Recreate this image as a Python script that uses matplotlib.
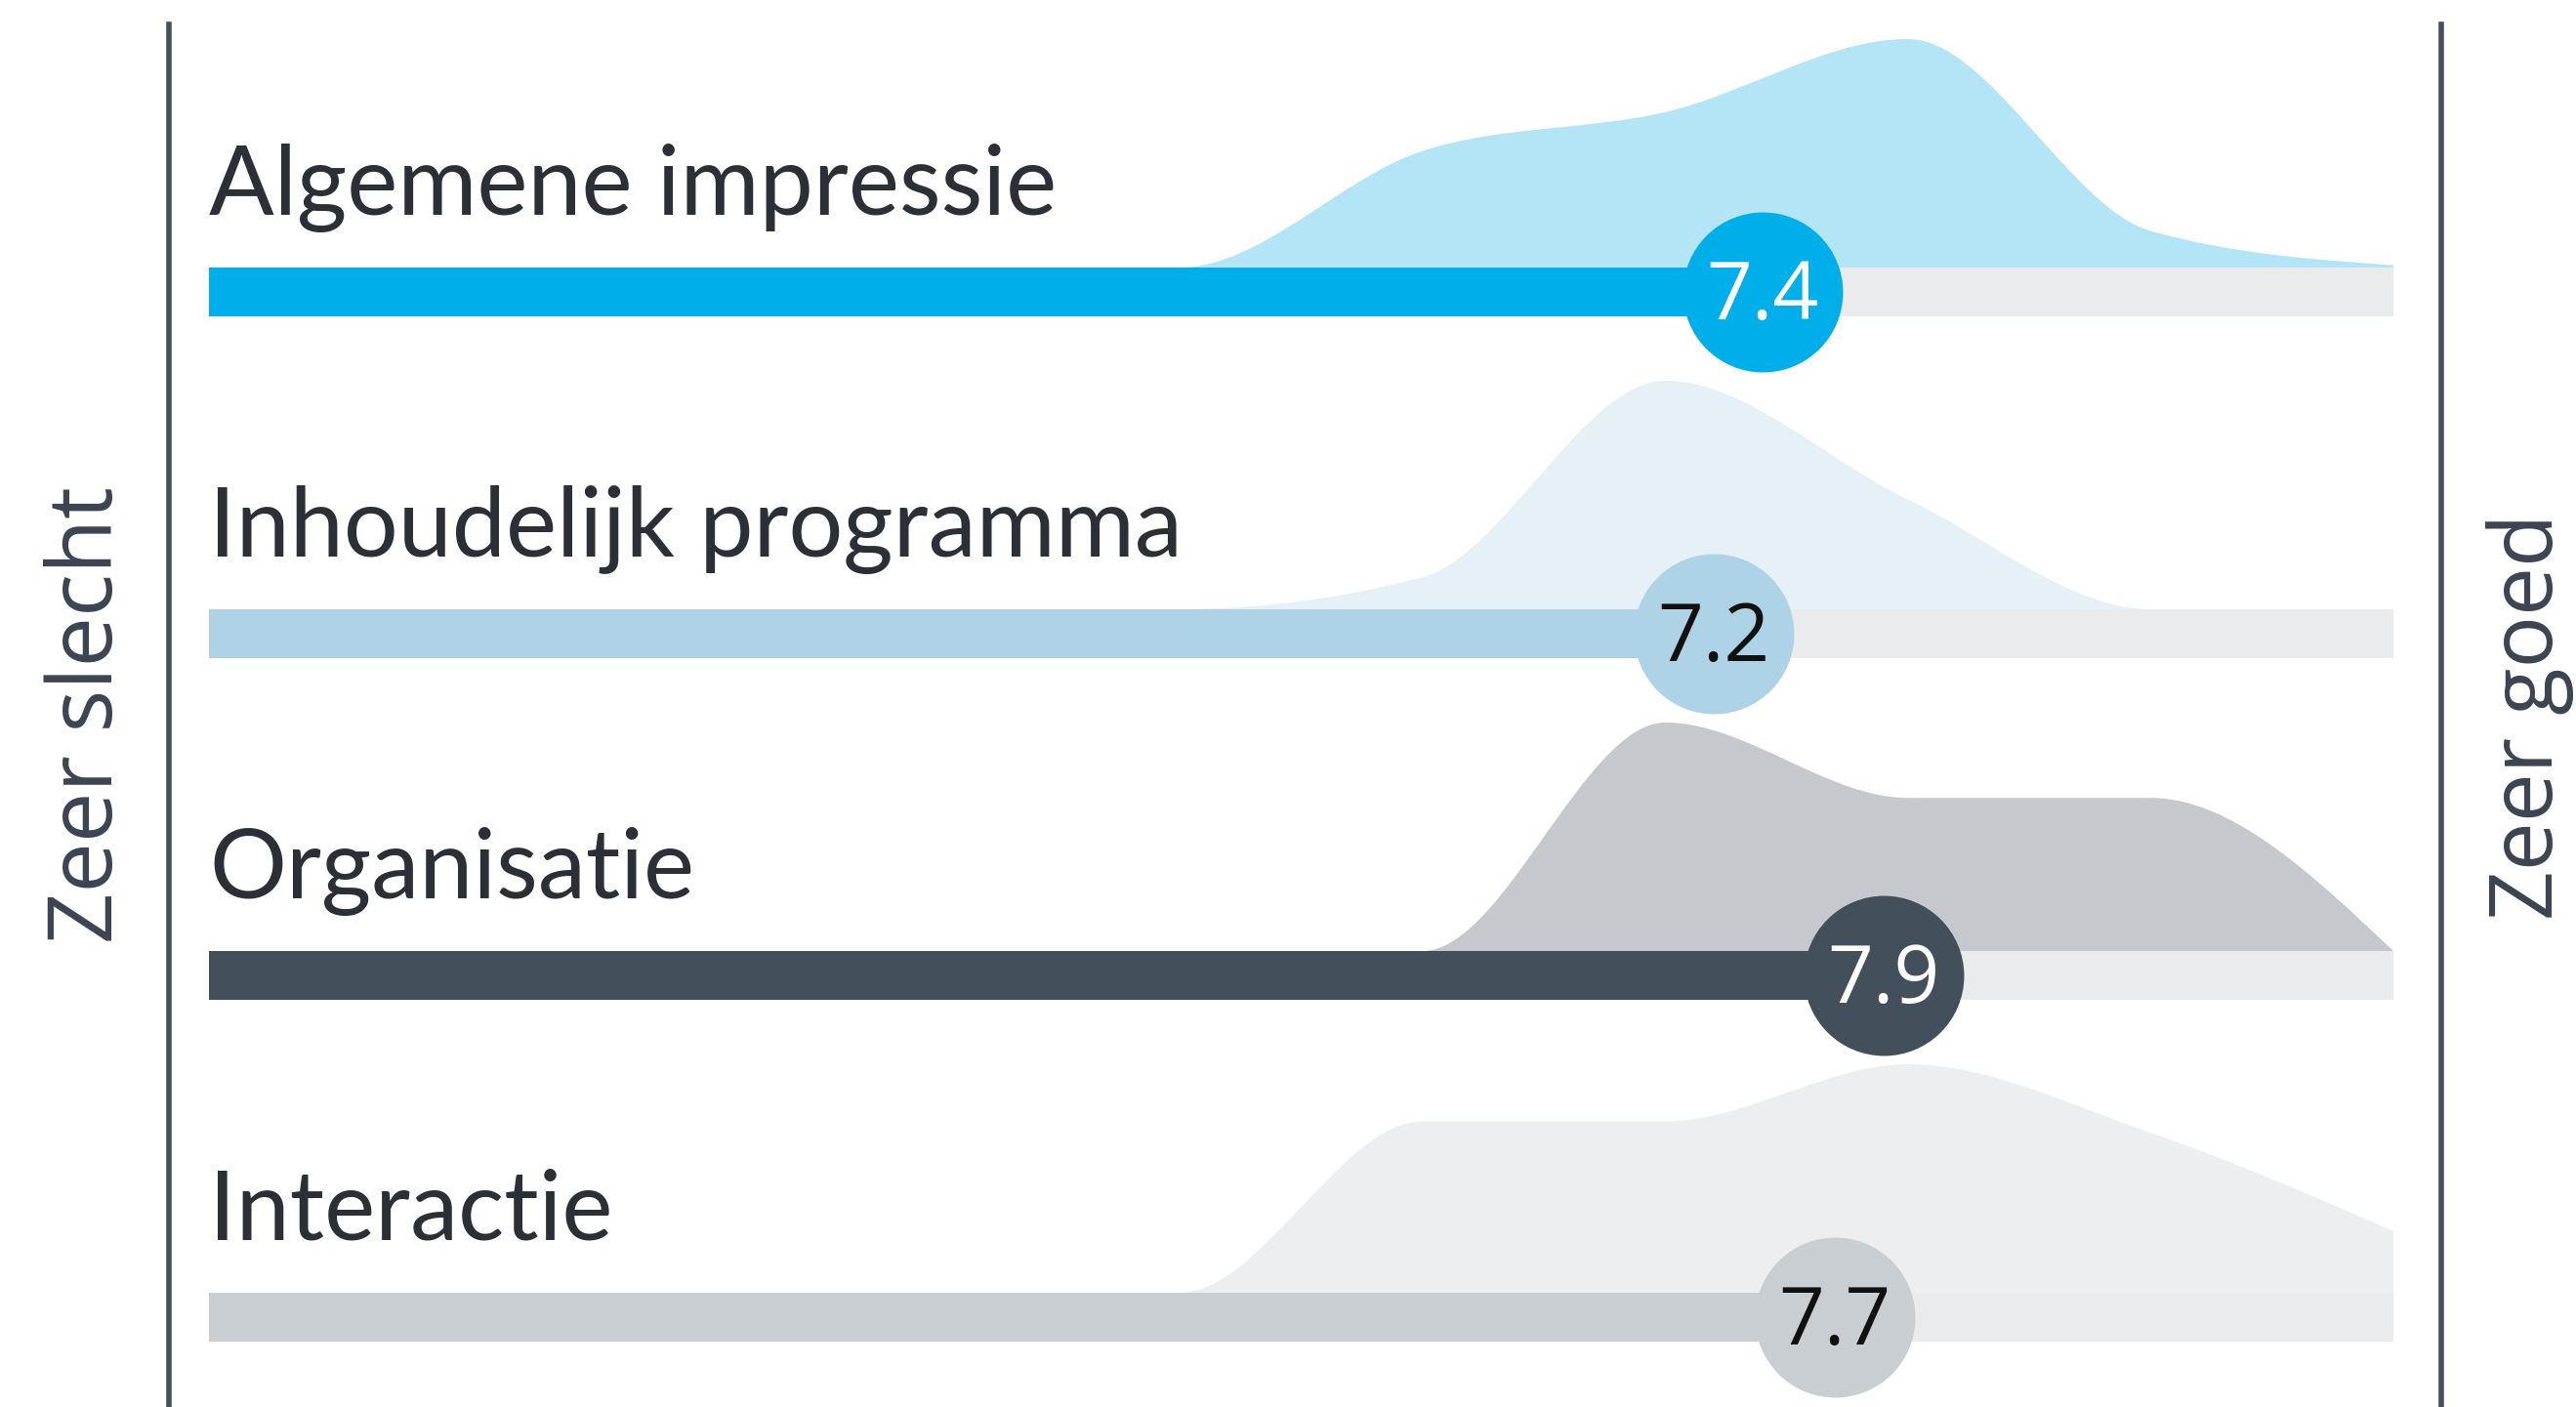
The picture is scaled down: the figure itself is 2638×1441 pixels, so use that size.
import numpy as np
import matplotlib
matplotlib.use('Agg')
import matplotlib.pyplot as plt
from matplotlib.path import Path
from matplotlib.patches import PathPatch

# Data
categories = ['Algemene impressie', 'Inhoudelijk programma', 'Organisatie', 'Interactie']
scores = [7.4, 7.2, 7.9, 7.7]
scale_points = [1, 2, 3, 4, 5, 6, 7, 8, 9, 10]
# relative share of answers per scale point (peak = 1)
dist_algemeen = [0, 0, 0, 0, 0.0, 0.51, 0.68, 1.0, 0.16, 0.01]
dist_inhoud = [0, 0, 0, 0, 0.0, 0.14, 1.0, 0.48, 0.0, 0.0]
dist_organisatie = [0, 0, 0, 0, 0, 0.0, 1.0, 0.67, 0.67, 0.0]
dist_interactie = [0, 0, 0, 0, 0.0, 0.75, 0.75, 1.0, 0.70, 0.27]
distributions = [dist_algemeen, dist_inhoud, dist_organisatie, dist_interactie]
scale_low = 'Zeer slecht'
scale_high = 'Zeer goed'

# Styles
BAR_COLORS = ['#00AEE9', '#AED2E6', '#434F5B', '#C9CED2']
AREA_COLORS = ['#B3E5F6', '#E5F0F7', '#C5C8CC', '#EDEEF0']
NUM_COLORS = ['white', '#111111', 'white', '#111111']
TRACK_COLOR = '#EAEBEC'
LINE_COLOR = '#44505C'
LABEL_COLOR = '#2B2F36'
SIDE_COLOR = '#3B4450'

W, H = 2638, 1441
PX_X = (2451 - 214) / 9      # pixels per scale point
PX_Y = 350                   # pixels per row
BAR_H = 50 / PX_Y
AREA_AMP = 234 / PX_Y


def monotone_path(xs, ys):
    # cubic bezier segments like d3.curveMonotoneX
    xs = np.asarray(xs, float)
    ys = np.asarray(ys, float)
    h = np.diff(xs)
    s = np.diff(ys) / h
    t = np.zeros_like(ys)
    for k in range(1, len(xs) - 1):
        p = (s[k - 1] * h[k] + s[k] * h[k - 1]) / (h[k - 1] + h[k])
        t[k] = (np.sign(s[k - 1]) + np.sign(s[k])) * min(abs(s[k - 1]), abs(s[k]), 0.5 * abs(p))
    t[0] = (3 * s[0] - t[1]) / 2
    t[-1] = (3 * s[-1] - t[-2]) / 2
    verts = [(xs[0], ys[0])]
    codes = [Path.MOVETO]
    for k in range(len(xs) - 1):
        dx = h[k] / 3
        verts += [(xs[k] + dx, ys[k] + dx * t[k]),
                  (xs[k + 1] - dx, ys[k + 1] - dx * t[k + 1]),
                  (xs[k + 1], ys[k + 1])]
        codes += [Path.CURVE4] * 3
    return verts, codes


fig = plt.figure(figsize=(W / 100, H / 100), dpi=100)
fig.patch.set_facecolor('white')
ax = fig.add_axes([0, 0, 1, 1])
ax.axis('off')
ax.set_xlim(1 - 214 / PX_X, 10 + (W - 2451) / PX_X)
ax.set_ylim(3 + (H - 1349) / PX_Y, -299 / PX_Y)

lo, hi = scale_points[0], scale_points[-1]
for i, (name, score, dist) in enumerate(zip(categories, scores, distributions)):
    top = i - BAR_H / 2

    # distribution area sitting on the bar
    verts, codes = monotone_path(scale_points, dist)
    verts = [(x, top - v * AREA_AMP) for x, v in verts]
    verts += [(hi, top), (lo, top), (lo, top)]
    codes += [Path.LINETO, Path.LINETO, Path.CLOSEPOLY]
    ax.add_patch(PathPatch(Path(verts, codes), facecolor=AREA_COLORS[i], edgecolor='none', zorder=1))

    ax.barh(i, hi - lo, left=lo, height=BAR_H, color=TRACK_COLOR, zorder=2)
    ax.barh(i, score - lo, left=lo, height=BAR_H, color=BAR_COLORS[i], zorder=3)
    ax.plot(score, i, 'o', ms=118, color=BAR_COLORS[i], mew=0, zorder=4)
    ax.text(score, i + 28 / PX_Y, f'{score:.1f}', ha='center', va='baseline',
            fontsize=59, color=NUM_COLORS[i], family=['Open Sans', 'DejaVu Sans'], zorder=5)

    ax.text(lo, top - 54 / PX_Y, name, ha='left', va='baseline', fontsize=71,
            color=LABEL_COLOR, family=['Lato', 'DejaVu Sans'], zorder=5)

# scale end lines
ax.axvline(1 - 41 / PX_X, ymin=0, ymax=1 - 25 / H, color=LINE_COLOR, lw=4)
ax.axvline(10 + 49 / PX_X, ymin=0, ymax=1 - 25 / H, color=LINE_COLOR, lw=4)

fig.text(91 / W, 1 - 732 / H, scale_low, rotation=90, ha='center', va='center',
         fontsize=66, color=SIDE_COLOR, family=['Open Sans', 'DejaVu Sans'])
fig.text(2591 / W, 1 - 734 / H, scale_high, rotation=90, ha='center', va='center',
         fontsize=64, color=SIDE_COLOR, family=['Open Sans', 'DejaVu Sans'])

fig.savefig('out.png', dpi=100, facecolor='white')
